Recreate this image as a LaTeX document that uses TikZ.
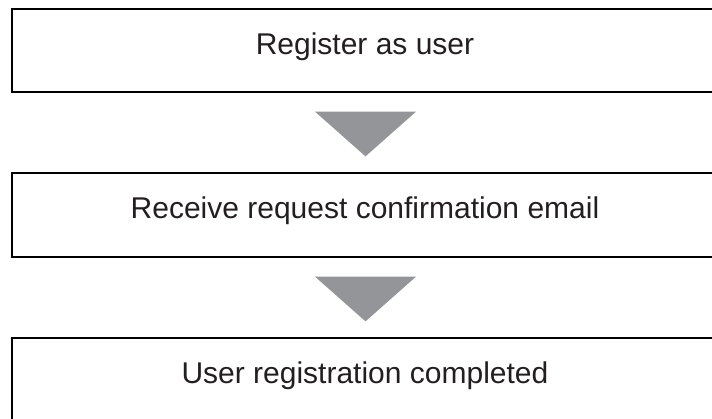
\documentclass[tikz,border=0pt]{standalone}
\usepackage{fontspec}
\setmainfont{Liberation Sans}
\usetikzlibrary{calc}
\definecolor{stepgray}{HTML}{939598}
\definecolor{textgray}{HTML}{231F20}
\tikzset{stepbox/.style={draw=black, line width=1.3pt, minimum width=706pt, minimum height=83pt, inner sep=0pt, text=textgray, font=\fontsize{30}{34}\selectfont, text height=0.716em, text depth=0pt}}
\begin{document}
\begin{tikzpicture}[x=1pt, y=1pt]
\useasboundingbox (0,0) rectangle (712,-418);
\node[stepbox] (register) at (365,-50.5) {Register as user};
\node[stepbox, minimum height=84pt] (confirm) at (365,-215) {Receive request confirmation email};
\node[stepbox] (completed) at (365,-379.5) {User registration completed};
\fill[stepgray] ($(register.south)+(-50,-19)$) -- ($(register.south)+(51,-19)$) -- ($(confirm.north)+(0.5,16)$) -- cycle;
\fill[stepgray] ($(confirm.south)+(-50,-19)$) -- ($(confirm.south)+(51,-19)$) -- ($(completed.north)+(0.5,16)$) -- cycle;
\end{tikzpicture}
\end{document}
